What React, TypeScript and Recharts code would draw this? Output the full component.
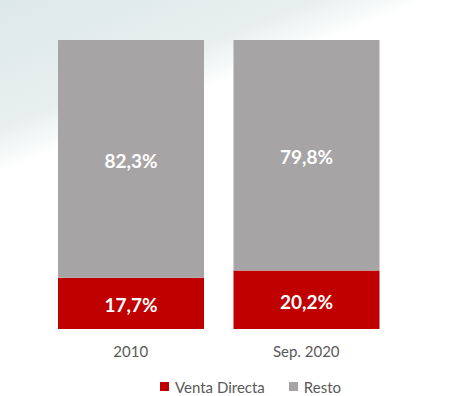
import { BarChart, Bar, XAxis, YAxis, Legend, LabelList } from "recharts";

const categories = ["2010", "Sep. 2020"];
const ventaDirecta = [17.7, 20.2];
const resto = [82.3, 79.8];

const RED = "#c00000";
const GREY = "#a6a4a5";
const TEXT = "#595959";
const FONT = "Lato, 'Open Sans', sans-serif";

const data = categories.map((name, i) => ({
  name,
  venta: ventaDirecta[i],
  resto: resto[i],
}));

const fmt = (v: any) => `${Number(v).toFixed(1).replace(".", ",")}%`;

const LegendContent = () => (
  <div
    style={{
      height: 36,
      paddingTop: 17,
      paddingLeft: 117,
      boxSizing: "border-box",
      display: "flex",
      alignItems: "center",
      fontFamily: FONT,
      fontSize: 15,
      color: TEXT,
      lineHeight: "16px",
    }}
  >
    <span style={{ width: 9, height: 9, background: RED, marginRight: 6 }} />
    <span style={{ marginRight: 24 }}>Venta Directa</span>
    <span style={{ width: 9, height: 9, background: GREY, marginRight: 6 }} />
    <span>Resto</span>
  </div>
);

export default function App() {
  return (
    <div
      style={{
        position: "absolute",
        left: 0,
        top: 0,
        width: 453,
        height: 396,
        background:
          "linear-gradient(158deg, #dde8e8 0%, #e8efef 22%, #ffffff 30%, #ffffff 100%)",
      }}
    >
      <BarChart
        width={453}
        height={396}
        data={data}
        margin={{ top: 40, right: 59, left: 43, bottom: 0 }}
        barCategoryGap={15}
      >
        <YAxis hide domain={[0, 100]} />
        <XAxis
          dataKey="name"
          axisLine={false}
          tickLine={false}
          height={31}
          tickMargin={11}
          tick={{ fill: TEXT, fontSize: 15, fontFamily: FONT }}
        />
        <Legend verticalAlign="bottom" content={<LegendContent />} />
        <Bar dataKey="venta" name="Venta Directa" stackId="a" fill={RED} isAnimationActive={false}>
          <LabelList
            dataKey="venta"
            position="center"
            formatter={fmt}
            fill="#ffffff"
            dy={2}
            style={{ fontFamily: FONT, fontSize: 19, fontWeight: 700 }}
          />
        </Bar>
        <Bar dataKey="resto" name="Resto" stackId="a" fill={GREY} isAnimationActive={false}>
          <LabelList
            dataKey="resto"
            position="center"
            formatter={fmt}
            fill="#ffffff"
            dy={2}
            style={{ fontFamily: FONT, fontSize: 19, fontWeight: 700 }}
          />
        </Bar>
      </BarChart>
    </div>
  );
}
